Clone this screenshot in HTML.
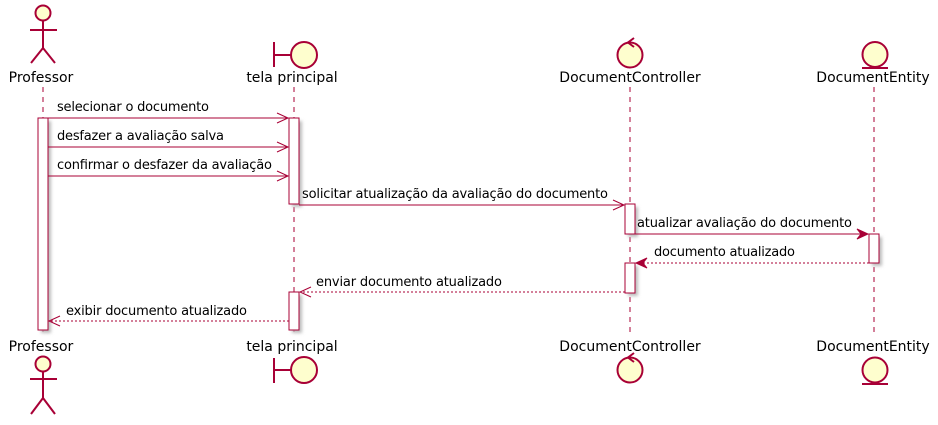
<!DOCTYPE html>
<html><head><meta charset="utf-8"><style>
html,body{margin:0;padding:0;background:#fff;}
svg{display:block;}
text{font-family:"DejaVu Sans","Liberation Sans",sans-serif;font-size:13px;fill:#000;}
.p{font-size:14px;}
</style></head><body>
<svg width="938" height="425" viewBox="0 0 938 425" xmlns="http://www.w3.org/2000/svg">
<defs>
<filter id="sh" x="-20%" y="-20%" width="160%" height="160%"><feGaussianBlur stdDeviation="1.5"/></filter>
</defs>
<g stroke="#A80036" stroke-width="1" stroke-dasharray="5,5">
<line x1="43" y1="87" x2="43" y2="332"/>
<line x1="294" y1="87" x2="294" y2="332"/>
<line x1="630" y1="87" x2="630" y2="332"/>
<line x1="874" y1="87" x2="874" y2="332"/>
</g>
<g fill="#bbb" filter="url(#sh)">
<rect x="41" y="121" width="10" height="212"/>
<rect x="292" y="121" width="10" height="86"/>
<rect x="292" y="295" width="10" height="38"/>
<rect x="628" y="207" width="10" height="30"/>
<rect x="628" y="266" width="10" height="30"/>
<rect x="872" y="237" width="10" height="29"/>
</g>
<g fill="#fff" stroke="#A80036">
<rect x="38" y="118" width="10" height="212"/>
<rect x="289" y="118" width="10" height="86"/>
<rect x="289" y="292" width="10" height="38"/>
<rect x="625" y="204" width="10" height="30"/>
<rect x="625" y="263" width="10" height="30"/>
<rect x="869" y="234" width="10" height="29"/>
</g>
<g stroke="#A80036" stroke-width="2" fill="#FEFECE">
<circle cx="43" cy="13" r="7.5"/>
<line x1="43" y1="21" x2="43" y2="48"/><line x1="30" y1="30" x2="57" y2="30"/>
<line x1="43" y1="48" x2="31" y2="63"/><line x1="43" y1="48" x2="55" y2="63"/>
<line x1="274" y1="42" x2="274" y2="67"/><line x1="274" y1="55" x2="291" y2="55"/>
<circle cx="304" cy="55" r="13"/>
<circle cx="630" cy="55" r="12.5"/>
<polyline points="634,38 628,42.5 634,47" fill="none"/>
<circle cx="875" cy="54.5" r="12.5"/>
<line x1="862" y1="68" x2="888" y2="68"/>
</g>
<g stroke="#A80036" stroke-width="2" fill="#FEFECE">
<circle cx="43" cy="364" r="7.5"/>
<line x1="43" y1="372" x2="43" y2="398"/><line x1="30" y1="379" x2="57" y2="379"/>
<line x1="43" y1="398" x2="31" y2="414"/><line x1="43" y1="398" x2="55" y2="414"/>
<line x1="274" y1="358" x2="274" y2="383"/><line x1="274" y1="370" x2="291" y2="370"/>
<circle cx="304" cy="370" r="13"/>
<circle cx="630" cy="370" r="12.5"/>
<polyline points="634,353 628,357.5 634,362" fill="none"/>
<circle cx="875" cy="370" r="12.5"/>
<line x1="862" y1="384" x2="888" y2="384"/>
</g>
<g text-anchor="middle" class="p">
<text class="p" x="41" y="82">Professor</text>
<text class="p" x="292" y="82">tela principal</text>
<text class="p" x="630" y="82">DocumentController</text>
<text class="p" x="873" y="82">DocumentEntity</text>
<text class="p" x="41" y="351">Professor</text>
<text class="p" x="292" y="351">tela principal</text>
<text class="p" x="630" y="351">DocumentController</text>
<text class="p" x="873" y="351">DocumentEntity</text>
</g>
<g stroke="#A80036" fill="none">
<line x1="48" y1="118" x2="288" y2="118"/><polyline points="277,113 288,118 277,123"/>
<line x1="48" y1="147" x2="288" y2="147"/><polyline points="277,142 288,147 277,152"/>
<line x1="48" y1="176" x2="288" y2="176"/><polyline points="277,171 288,176 277,181"/>
<line x1="299" y1="205" x2="624" y2="205"/><polyline points="613,200 624,205 613,210"/>
<line x1="635" y1="234" x2="866" y2="234"/>
<line x1="869" y1="263" x2="638" y2="263" stroke-dasharray="2,2"/>
<line x1="625" y1="292" x2="300" y2="292" stroke-dasharray="2,2"/><polyline points="311,287 300,292 311,297"/>
<line x1="289" y1="321" x2="49" y2="321" stroke-dasharray="2,2"/><polyline points="60,316 49,321 60,326"/>
</g>
<g fill="#A80036" stroke="#A80036">
<polygon points="857,229 868,234 857,239 861,234"/>
<polygon points="647,258 636,263 647,268 643,263"/>
</g>
<text x="57" y="111" textLength="152">selecionar o documento</text>
<text x="57" y="140" textLength="167">desfazer a avaliação salva</text>
<text x="57" y="169" textLength="215">confirmar o desfazer da avaliação</text>
<text x="302" y="198" textLength="306">solicitar atualização da avaliação do documento</text>
<text x="637" y="227" textLength="215">atualizar avaliação do documento</text>
<text x="654" y="256" textLength="141">documento atualizado</text>
<text x="316" y="286" textLength="186">enviar documento atualizado</text>
<text x="66" y="315" textLength="181">exibir documento atualizado</text>
</svg>
</body></html>
